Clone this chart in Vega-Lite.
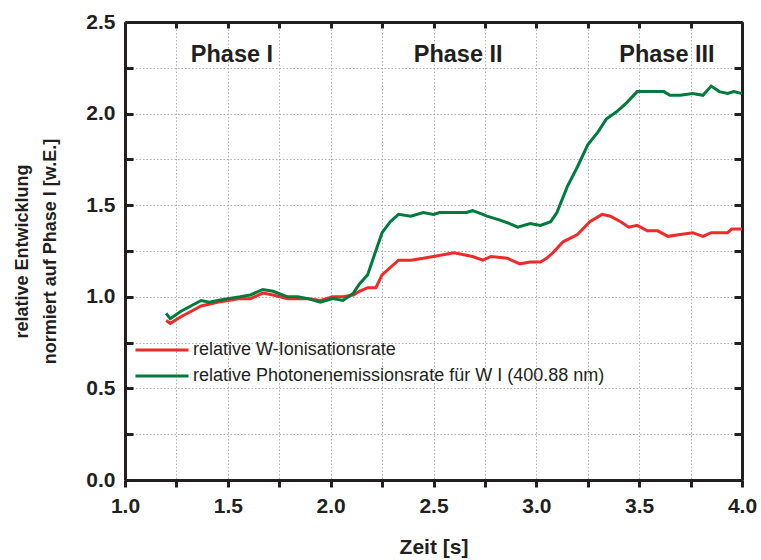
{
  "$schema": "https://vega.github.io/schema/vega-lite/v6.json",
  "width": 617,
  "height": 458,
  "autosize": "none",
  "padding": {"left": 125, "top": 22, "right": 19, "bottom": 80},
  "background": "white",
  "config": {
    "view": {"stroke": null},
    "font": "Liberation Sans",
    "axis": {
      "domainColor": "#231f20",
      "domainWidth": 3,
      "tickColor": "#231f20",
      "tickWidth": 3,
      "gridColor": "#b0b0b0",
      "gridDash": [1.5, 2],
      "gridWidth": 1,
      "labelFont": "Liberation Sans",
      "labelFontWeight": "bold",
      "labelFontSize": 21,
      "labelColor": "#231f20",
      "labelFlush": false,
      "labelOverlap": false,
      "titleFont": "Liberation Sans",
      "titleFontWeight": "bold",
      "titleFontSize": 18,
      "titleColor": "#231f20"
    }
  },
  "datasets": {
    "curves": [
      {"t": 1.20, "v": 0.87, "s": "relative W-Ionisationsrate"},
      {"t": 1.22, "v": 0.855, "s": "relative W-Ionisationsrate"},
      {"t": 1.27, "v": 0.89, "s": "relative W-Ionisationsrate"},
      {"t": 1.32, "v": 0.92, "s": "relative W-Ionisationsrate"},
      {"t": 1.37, "v": 0.95, "s": "relative W-Ionisationsrate"},
      {"t": 1.45, "v": 0.97, "s": "relative W-Ionisationsrate"},
      {"t": 1.50, "v": 0.98, "s": "relative W-Ionisationsrate"},
      {"t": 1.56, "v": 0.99, "s": "relative W-Ionisationsrate"},
      {"t": 1.61, "v": 0.99, "s": "relative W-Ionisationsrate"},
      {"t": 1.67, "v": 1.02, "s": "relative W-Ionisationsrate"},
      {"t": 1.72, "v": 1.01, "s": "relative W-Ionisationsrate"},
      {"t": 1.79, "v": 0.99, "s": "relative W-Ionisationsrate"},
      {"t": 1.84, "v": 0.99, "s": "relative W-Ionisationsrate"},
      {"t": 1.89, "v": 0.99, "s": "relative W-Ionisationsrate"},
      {"t": 1.95, "v": 0.98, "s": "relative W-Ionisationsrate"},
      {"t": 2.01, "v": 1.00, "s": "relative W-Ionisationsrate"},
      {"t": 2.06, "v": 1.00, "s": "relative W-Ionisationsrate"},
      {"t": 2.11, "v": 1.01, "s": "relative W-Ionisationsrate"},
      {"t": 2.14, "v": 1.03, "s": "relative W-Ionisationsrate"},
      {"t": 2.18, "v": 1.05, "s": "relative W-Ionisationsrate"},
      {"t": 2.22, "v": 1.05, "s": "relative W-Ionisationsrate"},
      {"t": 2.25, "v": 1.12, "s": "relative W-Ionisationsrate"},
      {"t": 2.33, "v": 1.20, "s": "relative W-Ionisationsrate"},
      {"t": 2.39, "v": 1.20, "s": "relative W-Ionisationsrate"},
      {"t": 2.45, "v": 1.21, "s": "relative W-Ionisationsrate"},
      {"t": 2.50, "v": 1.22, "s": "relative W-Ionisationsrate"},
      {"t": 2.60, "v": 1.24, "s": "relative W-Ionisationsrate"},
      {"t": 2.69, "v": 1.22, "s": "relative W-Ionisationsrate"},
      {"t": 2.74, "v": 1.20, "s": "relative W-Ionisationsrate"},
      {"t": 2.78, "v": 1.22, "s": "relative W-Ionisationsrate"},
      {"t": 2.86, "v": 1.21, "s": "relative W-Ionisationsrate"},
      {"t": 2.92, "v": 1.18, "s": "relative W-Ionisationsrate"},
      {"t": 2.97, "v": 1.19, "s": "relative W-Ionisationsrate"},
      {"t": 3.02, "v": 1.19, "s": "relative W-Ionisationsrate"},
      {"t": 3.05, "v": 1.21, "s": "relative W-Ionisationsrate"},
      {"t": 3.08, "v": 1.24, "s": "relative W-Ionisationsrate"},
      {"t": 3.13, "v": 1.30, "s": "relative W-Ionisationsrate"},
      {"t": 3.20, "v": 1.34, "s": "relative W-Ionisationsrate"},
      {"t": 3.26, "v": 1.41, "s": "relative W-Ionisationsrate"},
      {"t": 3.32, "v": 1.45, "s": "relative W-Ionisationsrate"},
      {"t": 3.36, "v": 1.44, "s": "relative W-Ionisationsrate"},
      {"t": 3.41, "v": 1.41, "s": "relative W-Ionisationsrate"},
      {"t": 3.45, "v": 1.38, "s": "relative W-Ionisationsrate"},
      {"t": 3.49, "v": 1.39, "s": "relative W-Ionisationsrate"},
      {"t": 3.54, "v": 1.36, "s": "relative W-Ionisationsrate"},
      {"t": 3.59, "v": 1.36, "s": "relative W-Ionisationsrate"},
      {"t": 3.64, "v": 1.33, "s": "relative W-Ionisationsrate"},
      {"t": 3.70, "v": 1.34, "s": "relative W-Ionisationsrate"},
      {"t": 3.76, "v": 1.35, "s": "relative W-Ionisationsrate"},
      {"t": 3.81, "v": 1.33, "s": "relative W-Ionisationsrate"},
      {"t": 3.85, "v": 1.35, "s": "relative W-Ionisationsrate"},
      {"t": 3.93, "v": 1.35, "s": "relative W-Ionisationsrate"},
      {"t": 3.95, "v": 1.37, "s": "relative W-Ionisationsrate"},
      {"t": 4.00, "v": 1.37, "s": "relative W-Ionisationsrate"},
      {"t": 1.20, "v": 0.91, "s": "relative Photonenemissionsrate für W I (400.88 nm)"},
      {"t": 1.22, "v": 0.88, "s": "relative Photonenemissionsrate für W I (400.88 nm)"},
      {"t": 1.27, "v": 0.92, "s": "relative Photonenemissionsrate für W I (400.88 nm)"},
      {"t": 1.32, "v": 0.95, "s": "relative Photonenemissionsrate für W I (400.88 nm)"},
      {"t": 1.37, "v": 0.98, "s": "relative Photonenemissionsrate für W I (400.88 nm)"},
      {"t": 1.41, "v": 0.97, "s": "relative Photonenemissionsrate für W I (400.88 nm)"},
      {"t": 1.45, "v": 0.98, "s": "relative Photonenemissionsrate für W I (400.88 nm)"},
      {"t": 1.50, "v": 0.99, "s": "relative Photonenemissionsrate für W I (400.88 nm)"},
      {"t": 1.56, "v": 1.00, "s": "relative Photonenemissionsrate für W I (400.88 nm)"},
      {"t": 1.61, "v": 1.01, "s": "relative Photonenemissionsrate für W I (400.88 nm)"},
      {"t": 1.67, "v": 1.04, "s": "relative Photonenemissionsrate für W I (400.88 nm)"},
      {"t": 1.72, "v": 1.03, "s": "relative Photonenemissionsrate für W I (400.88 nm)"},
      {"t": 1.79, "v": 1.00, "s": "relative Photonenemissionsrate für W I (400.88 nm)"},
      {"t": 1.84, "v": 1.00, "s": "relative Photonenemissionsrate für W I (400.88 nm)"},
      {"t": 1.89, "v": 0.99, "s": "relative Photonenemissionsrate für W I (400.88 nm)"},
      {"t": 1.95, "v": 0.97, "s": "relative Photonenemissionsrate für W I (400.88 nm)"},
      {"t": 2.01, "v": 0.99, "s": "relative Photonenemissionsrate für W I (400.88 nm)"},
      {"t": 2.06, "v": 0.98, "s": "relative Photonenemissionsrate für W I (400.88 nm)"},
      {"t": 2.11, "v": 1.02, "s": "relative Photonenemissionsrate für W I (400.88 nm)"},
      {"t": 2.14, "v": 1.07, "s": "relative Photonenemissionsrate für W I (400.88 nm)"},
      {"t": 2.18, "v": 1.12, "s": "relative Photonenemissionsrate für W I (400.88 nm)"},
      {"t": 2.21, "v": 1.22, "s": "relative Photonenemissionsrate für W I (400.88 nm)"},
      {"t": 2.25, "v": 1.35, "s": "relative Photonenemissionsrate für W I (400.88 nm)"},
      {"t": 2.29, "v": 1.41, "s": "relative Photonenemissionsrate für W I (400.88 nm)"},
      {"t": 2.33, "v": 1.45, "s": "relative Photonenemissionsrate für W I (400.88 nm)"},
      {"t": 2.39, "v": 1.44, "s": "relative Photonenemissionsrate für W I (400.88 nm)"},
      {"t": 2.45, "v": 1.46, "s": "relative Photonenemissionsrate für W I (400.88 nm)"},
      {"t": 2.50, "v": 1.45, "s": "relative Photonenemissionsrate für W I (400.88 nm)"},
      {"t": 2.53, "v": 1.46, "s": "relative Photonenemissionsrate für W I (400.88 nm)"},
      {"t": 2.60, "v": 1.46, "s": "relative Photonenemissionsrate für W I (400.88 nm)"},
      {"t": 2.66, "v": 1.46, "s": "relative Photonenemissionsrate für W I (400.88 nm)"},
      {"t": 2.69, "v": 1.47, "s": "relative Photonenemissionsrate für W I (400.88 nm)"},
      {"t": 2.74, "v": 1.45, "s": "relative Photonenemissionsrate für W I (400.88 nm)"},
      {"t": 2.76, "v": 1.44, "s": "relative Photonenemissionsrate für W I (400.88 nm)"},
      {"t": 2.82, "v": 1.42, "s": "relative Photonenemissionsrate für W I (400.88 nm)"},
      {"t": 2.87, "v": 1.40, "s": "relative Photonenemissionsrate für W I (400.88 nm)"},
      {"t": 2.91, "v": 1.38, "s": "relative Photonenemissionsrate für W I (400.88 nm)"},
      {"t": 2.97, "v": 1.40, "s": "relative Photonenemissionsrate für W I (400.88 nm)"},
      {"t": 3.02, "v": 1.39, "s": "relative Photonenemissionsrate für W I (400.88 nm)"},
      {"t": 3.07, "v": 1.41, "s": "relative Photonenemissionsrate für W I (400.88 nm)"},
      {"t": 3.10, "v": 1.46, "s": "relative Photonenemissionsrate für W I (400.88 nm)"},
      {"t": 3.15, "v": 1.60, "s": "relative Photonenemissionsrate für W I (400.88 nm)"},
      {"t": 3.20, "v": 1.71, "s": "relative Photonenemissionsrate für W I (400.88 nm)"},
      {"t": 3.25, "v": 1.83, "s": "relative Photonenemissionsrate für W I (400.88 nm)"},
      {"t": 3.30, "v": 1.90, "s": "relative Photonenemissionsrate für W I (400.88 nm)"},
      {"t": 3.34, "v": 1.97, "s": "relative Photonenemissionsrate für W I (400.88 nm)"},
      {"t": 3.39, "v": 2.01, "s": "relative Photonenemissionsrate für W I (400.88 nm)"},
      {"t": 3.44, "v": 2.06, "s": "relative Photonenemissionsrate für W I (400.88 nm)"},
      {"t": 3.49, "v": 2.12, "s": "relative Photonenemissionsrate für W I (400.88 nm)"},
      {"t": 3.57, "v": 2.12, "s": "relative Photonenemissionsrate für W I (400.88 nm)"},
      {"t": 3.62, "v": 2.12, "s": "relative Photonenemissionsrate für W I (400.88 nm)"},
      {"t": 3.65, "v": 2.10, "s": "relative Photonenemissionsrate für W I (400.88 nm)"},
      {"t": 3.70, "v": 2.10, "s": "relative Photonenemissionsrate für W I (400.88 nm)"},
      {"t": 3.76, "v": 2.11, "s": "relative Photonenemissionsrate für W I (400.88 nm)"},
      {"t": 3.81, "v": 2.10, "s": "relative Photonenemissionsrate für W I (400.88 nm)"},
      {"t": 3.85, "v": 2.15, "s": "relative Photonenemissionsrate für W I (400.88 nm)"},
      {"t": 3.89, "v": 2.12, "s": "relative Photonenemissionsrate für W I (400.88 nm)"},
      {"t": 3.93, "v": 2.11, "s": "relative Photonenemissionsrate für W I (400.88 nm)"},
      {"t": 3.96, "v": 2.12, "s": "relative Photonenemissionsrate für W I (400.88 nm)"},
      {"t": 4.00, "v": 2.11, "s": "relative Photonenemissionsrate für W I (400.88 nm)"}
    ],
    "phases": [
      {"label": "Phase I", "t": 1.52, "v": 2.32},
      {"label": "Phase II", "t": 2.62, "v": 2.32},
      {"label": "Phase III", "t": 3.635, "v": 2.32}
    ]
  },
  "resolve": {"axis": {"x": "independent", "y": "independent"}},
  "layer": [
    {
      "data": {"name": "curves"},
      "mark": {"type": "line", "strokeWidth": 3, "clip": true},
      "encoding": {
        "x": {
          "field": "t", "type": "quantitative",
          "scale": {"domain": [1, 4], "nice": false, "zero": false},
          "axis": {
            "orient": "bottom",
            "title": "Zeit [s]",
            "titleFontSize": 21,
            "values": [1, 1.25, 1.5, 1.75, 2, 2.25, 2.5, 2.75, 3, 3.25, 3.5, 3.75, 4],
            "labelExpr": "datum.value % 0.5 == 0 ? format(datum.value, '.1f') : ''",
            "tickSize": 7,
            "labelPadding": 8,
            "titlePadding": 20,
            "grid": true
          }
        },
        "y": {
          "field": "v", "type": "quantitative",
          "scale": {"domain": [0, 2.5], "nice": false},
          "axis": {
            "orient": "left",
            "title": ["relative Entwicklung", "normiert auf Phase I [w.E.]"],
            "titleLineHeight": 28,
            "values": [0, 0.25, 0.5, 0.75, 1, 1.25, 1.5, 1.75, 2, 2.25, 2.5],
            "labelExpr": "datum.value % 0.5 == 0 ? format(datum.value, '.1f') : ''",
            "tickSize": -8,
            "labelPadding": 18,
            "titlePadding": 26,
            "grid": true
          }
        },
        "color": {
          "field": "s", "type": "nominal",
          "scale": {
            "domain": ["relative W-Ionisationsrate", "relative Photonenemissionsrate für W I (400.88 nm)"],
            "range": ["#ee2a2a", "#007a3d"]
          },
          "legend": {
            "orient": "none",
            "legendX": 22,
            "legendY": 313,
            "title": null,
            "symbolType": "M-2,0H2",
            "symbolSize": 702,
            "symbolStrokeWidth": 3,
            "labelFont": "Liberation Sans",
            "labelFontSize": 18,
            "labelColor": "#231f20",
            "labelLimit": 0,
            "rowPadding": 2,
            "labelOffset": 16
          }
        }
      }
    },
    {
      "data": {"name": "phases"},
      "mark": {"type": "text", "font": "Liberation Sans", "fontWeight": "bold", "fontSize": 23.5, "color": "#231f20", "baseline": "middle", "align": "center"},
      "encoding": {
        "x": {
          "field": "t", "type": "quantitative",
          "scale": {"domain": [1, 4], "nice": false, "zero": false},
          "axis": {
            "orient": "top", "title": null, "labels": false, "grid": false,
            "values": [1, 1.25, 1.5, 1.75, 2, 2.25, 2.5, 2.75, 3, 3.25, 3.5, 3.75, 4],
            "tickSize": -6
          }
        },
        "y": {
          "field": "v", "type": "quantitative",
          "scale": {"domain": [0, 2.5], "nice": false},
          "axis": {
            "orient": "right", "title": null, "labels": false, "grid": false,
            "values": [0, 0.25, 0.5, 0.75, 1, 1.25, 1.5, 1.75, 2, 2.25, 2.5],
            "tickSize": -8
          }
        },
        "text": {"field": "label"}
      }
    }
  ]
}
